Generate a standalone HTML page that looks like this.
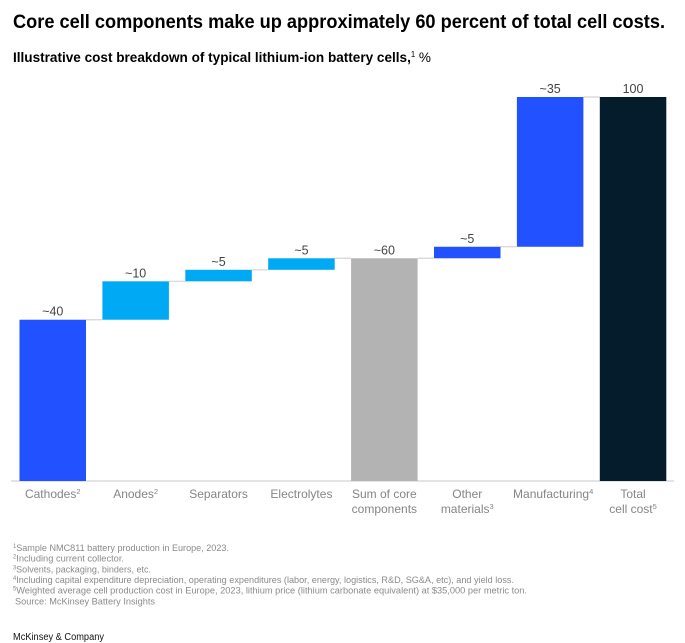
<!DOCTYPE html>
<html lang="en">
<head>
<meta charset="utf-8">
<title>Core cell components cost breakdown</title>
<style>
html,body{margin:0;padding:0;background:#fff;width:685px;height:643px;overflow:hidden}
svg{display:block;font-family:"Liberation Sans",sans-serif}
</style>
</head>
<body>
<svg id="chart" xmlns="http://www.w3.org/2000/svg" width="685" height="643" viewBox="0 0 685 643">
  <text x="13" y="28" font-size="19.5" font-weight="700" fill="#000" textLength="652" lengthAdjust="spacingAndGlyphs">Core cell components make up approximately 60 percent of total cell costs.</text>
  <text x="13" y="62" font-size="14" fill="#000" textLength="418" lengthAdjust="spacingAndGlyphs"><tspan font-weight="700">Illustrative cost breakdown of typical lithium-ion battery cells,</tspan><tspan font-size="8" dy="-5">1</tspan><tspan dy="5"> %</tspan></text>
  <g id="plot"></g>
  <g font-size="9.5" fill="#8a8a8a">
    <text x="13" y="551" textLength="216" lengthAdjust="spacingAndGlyphs"><tspan font-size="6" dy="-3">1</tspan><tspan dy="3">Sample NMC811 battery production in Europe, 2023.</tspan></text>
    <text x="13" y="561.7" textLength="111" lengthAdjust="spacingAndGlyphs"><tspan font-size="6" dy="-3">2</tspan><tspan dy="3">Including current collector.</tspan></text>
    <text x="13" y="572.4" textLength="138" lengthAdjust="spacingAndGlyphs"><tspan font-size="6" dy="-3">3</tspan><tspan dy="3">Solvents, packaging, binders, etc.</tspan></text>
    <text x="13" y="583" textLength="501" lengthAdjust="spacingAndGlyphs"><tspan font-size="6" dy="-3">4</tspan><tspan dy="3">Including capital expenditure depreciation, operating expenditures (labor, energy, logistics, R&amp;D, SG&amp;A, etc), and yield loss.</tspan></text>
    <text x="13" y="593.7" textLength="514" lengthAdjust="spacingAndGlyphs"><tspan font-size="6" dy="-3">5</tspan><tspan dy="3">Weighted average cell production cost in Europe, 2023, lithium price (lithium carbonate equivalent) at $35,000 per metric ton.</tspan></text>
    <text x="15" y="604.4" textLength="140" lengthAdjust="spacingAndGlyphs">Source: McKinsey Battery Insights</text>
  </g>
  <text x="13" y="640" font-size="10" fill="#111" textLength="91" lengthAdjust="spacingAndGlyphs">McKinsey &amp; Company</text>
</svg>
<script>
const categoryLines = [["Cathodes"],["Anodes"],["Separators"],["Electrolytes"],["Sum of core","components"],["Other","materials"],["Manufacturing"],["Total","cell cost"]];
const categorySups = ["2","2","","","","3","4","5"];
const valueLabels = ["~40","~10","~5","~5","~60","~5","~35","100"];
const values = [42,10,3,3,58,3,39,100];
const barKinds = ["step","step","step","step","total","step","step","total"];
const barColors = ["#2251FF","#00A9F4","#00A9F4","#00A9F4","#B3B3B3","#2251FF","#2251FF","#051C2C"];

const NS = "http://www.w3.org/2000/svg";
const plot = document.getElementById("plot");
const baseY = 481, topY = 97, maxValue = 100;
const firstX = 19.5, stepX = 82.9, barW = 66.5;
const yScale = v => baseY - (v / maxValue) * (baseY - topY);
const xScale = i => firstX + i * stepX;

function make(tag, attrs, parent) {
  const el = document.createElementNS(NS, tag);
  for (const k in attrs) el.setAttribute(k, attrs[k]);
  parent.appendChild(el);
  return el;
}

const axis = make("line", {x1: 11, x2: 674, y1: baseY, y2: baseY, stroke: "#d4d4d4", "stroke-width": 1.2}, plot);



let running = 0;
values.forEach((v, i) => {
  const isTotal = barKinds[i] === "total";
  const start = isTotal ? 0 : running;
  const end = isTotal ? v : running + v;
  running = end;
  const x = xScale(i);
  const yTop = yScale(end);
  const yBot = yScale(start);

  if (i < values.length - 1) {
    const conn = make("line", {x1: x + barW, x2: xScale(i + 1), y1: yTop, y2: yTop, stroke: "#d4d4d4", "stroke-width": 1.2}, plot);
    
    
  }

  const bar = make("rect", {x: x, y: yTop, width: barW, height: yBot - yTop, fill: barColors[i]}, plot);
  
  

  const val = make("text", {x: x + barW / 2, y: yTop - 4, "text-anchor": "middle", "font-size": 12.5, fill: "#444"}, plot);
  
  
  val.textContent = valueLabels[i];

  const lines = categoryLines[i];
  const longLabelNudge = categoryLines[i][0] === "Manufacturing" ? 3 : 0;
  lines.forEach((line, j) => {
    const t = make("text", {x: x + barW / 2 + longLabelNudge, y: 498 + j * 15, "text-anchor": "middle", "font-size": 12, fill: "#858585"}, plot);
    
    
    make("tspan", {}, t).textContent = line;
    if (j === lines.length - 1 && categorySups[i]) {
      const s = make("tspan", {"font-size": 7.5, dy: -4}, t);
      s.textContent = categorySups[i];
    }
  });
});
</script>
</body>
</html>
